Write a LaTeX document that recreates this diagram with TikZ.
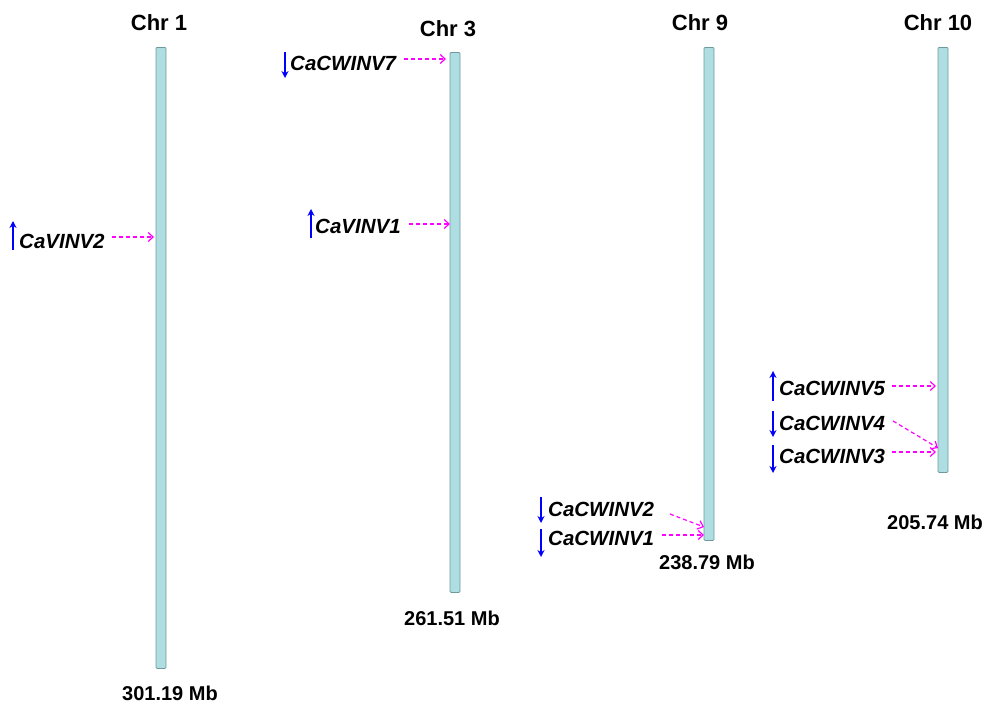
\documentclass[tikz,border=0pt]{standalone}
\usepackage{fontspec}
\setmainfont{Liberation Sans}
\usetikzlibrary{arrows.meta}
\definecolor{chrfill}{HTML}{AEDEE2}
\definecolor{chrdraw}{HTML}{6E9A9C}
\definecolor{ptrcol}{HTML}{FF00FF}
\definecolor{strandcol}{HTML}{0000FF}
\tikzset{
  chrom/.style={draw=chrdraw, fill=chrfill, line width=0.8pt, rounded corners=1pt, minimum width=10pt, inner sep=0pt, anchor=north},
  chrlabel/.style={font=\fontsize{22}{24}\selectfont\bfseries, inner sep=0pt},
  mblabel/.style={font=\fontsize{20}{22}\selectfont\bfseries, inner sep=0pt},
  gene/.style={font=\fontsize{20.5}{22}\selectfont\bfseries\itshape, inner sep=0pt, anchor=west},
  strand/.style={draw=strandcol, line width=2pt, -{Stealth[length=7pt,width=7pt]}},
  pointer/.style={draw=ptrcol, line width=1.2pt, dash pattern=on 4pt off 3pt, -{Straight Barb[length=5pt,width=9pt]}}
}
\begin{document}
\begin{tikzpicture}[x=1pt,y=-1pt]
\useasboundingbox (0,0) rectangle (995,704);
% chromosomes
\node[chrom, minimum height=621pt] (c1) at (161,47) {};
\node[chrom, minimum height=540pt] (c3) at (455,52) {};
\node[chrom, minimum height=493pt] (c9) at (709,47) {};
\node[chrom, minimum height=425pt] (c10) at (943,47) {};
% titles
\node[chrlabel] (t1) at (159,23) {Chr 1};
\node[chrlabel] (t3) at (448,29) {Chr 3};
\node[chrlabel] (t9) at (700,23) {Chr 9};
\node[chrlabel] (t10) at (938,23) {Chr 10};
% sizes
\node[mblabel] (m1) at (170,693) {301.19 Mb};
\node[mblabel] (m3) at (452,618) {261.51 Mb};
\node[mblabel] (m9) at (707,562) {238.79 Mb};
\node[mblabel] (m10) at (935,522) {205.74 Mb};
% genes
\node[gene] (g2) at (19,241) {CaVINV2};
\node[gene] (g7) at (290,63) {CaCWINV7};
\node[gene] (g1) at (315,226) {CaVINV1};
\node[gene] (w5) at (779,388) {CaCWINV5};
\node[gene] (w4) at (779,423) {CaCWINV4};
\node[gene] (w3) at (779,456) {CaCWINV3};
\node[gene] (w2) at (548,509) {CaCWINV2};
\node[gene] (w1) at (548,538) {CaCWINV1};
% strand arrows
\coordinate (s2a) at (13,250); \coordinate (s2b) at (13,221);
\coordinate (s7a) at (285,52); \coordinate (s7b) at (285,78);
\coordinate (s1a) at (311,238); \coordinate (s1b) at (311,209);
\coordinate (s5a) at (773,401); \coordinate (s5b) at (773,371);
\coordinate (s4a) at (773,411); \coordinate (s4b) at (773,437);
\coordinate (s3a) at (773,445); \coordinate (s3b) at (773,473);
\coordinate (sw2a) at (541,497); \coordinate (sw2b) at (541,523);
\coordinate (sw1a) at (541,529); \coordinate (sw1b) at (541,557);
\draw[strand] (s2a) -- (s2b);
\draw[strand] (s7a) -- (s7b);
\draw[strand] (s1a) -- (s1b);
\draw[strand] (s5a) -- (s5b);
\draw[strand] (s4a) -- (s4b);
\draw[strand] (s3a) -- (s3b);
\draw[strand] (sw2a) -- (sw2b);
\draw[strand] (sw1a) -- (sw1b);
% pointers
\coordinate (p2a) at (112,237); \coordinate (p2b) at (154,237);
\coordinate (p7a) at (404,59); \coordinate (p7b) at (446,59);
\coordinate (p1a) at (409,224); \coordinate (p1b) at (450,224);
\coordinate (p5a) at (892,386); \coordinate (p5b) at (936,386);
\coordinate (p4a) at (893,421); \coordinate (p4b) at (938,448);
\coordinate (p3a) at (892,452); \coordinate (p3b) at (936,452);
\coordinate (pw2a) at (670,514); \coordinate (pw2b) at (704,527);
\coordinate (pw1a) at (662,535); \coordinate (pw1b) at (704,535);
\draw[pointer] (p2a) -- (p2b);
\draw[pointer] (p7a) -- (p7b);
\draw[pointer] (p1a) -- (p1b);
\draw[pointer] (p5a) -- (p5b);
\draw[pointer] (p4a) -- (p4b);
\draw[pointer] (p3a) -- (p3b);
\draw[pointer] (pw2a) -- (pw2b);
\draw[pointer] (pw1a) -- (pw1b);
\end{tikzpicture}
\end{document}
